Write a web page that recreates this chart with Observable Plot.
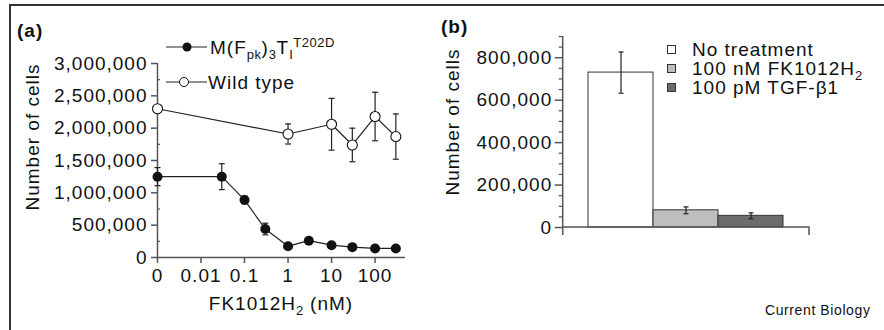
<!DOCTYPE html>
<html><head><meta charset="utf-8">
<script src="https://cdn.jsdelivr.net/npm/d3@7"></script>
<script src="https://cdn.jsdelivr.net/npm/@observablehq/plot@0.6"></script>
<style>
html,body{margin:0;padding:0;background:#fff;}
#fig{position:relative;width:884px;height:330px;overflow:hidden;background:#fff;font-family:'Liberation Sans',Arial,Helvetica,sans-serif;color:#111;}
.panel{position:absolute;top:0;}
.t{position:absolute;font-size:19px;letter-spacing:1px;line-height:1;white-space:nowrap;}
.sb{font-size:13px;position:relative;top:5px;letter-spacing:0.5px;}
.sp{font-size:13px;position:relative;top:-7px;letter-spacing:0.5px;}
.frameL{position:absolute;left:9px;top:4px;width:1.5px;height:330px;background:#333;}
.frameT{position:absolute;left:9px;top:4px;width:880px;height:1.5px;background:#333;}
.sq{position:absolute;width:7px;height:7px;border:1px solid #333;}
</style>
</head><body>
<div id="fig">
  <div class="frameL"></div><div class="frameT"></div>
  <div class="panel" id="pa" style="left:0px"></div>
  <div class="panel" id="pb" style="left:440px"></div>

  <div class="t" style="left:17px;top:21px;font-weight:bold;">(a)</div>
  <div class="t" style="left:441px;top:17px;font-weight:bold;">(b)</div>

  <svg style="position:absolute;left:160px;top:35px" width="52" height="60">
    <line x1="6" y1="12" x2="47" y2="12" stroke="#222" stroke-width="1.2"/>
    <circle cx="27" cy="12" r="4.5" fill="#111"/>
    <line x1="6" y1="47" x2="47" y2="47" stroke="#222" stroke-width="1.2"/>
    <circle cx="24" cy="47" r="4.5" fill="#fff" stroke="#111" stroke-width="1"/>
  </svg>
  <div class="t" style="left:210px;top:38px;">M(F<span class="sb">pk</span>)<span class="sb">3</span>T<span class="sb">I</span><span class="sp">T202D</span></div>
  <div class="t" style="left:208px;top:73px;">Wild type</div>

  <div class="t" style="left:32px;top:137px;transform:translate(-50%,-50%) rotate(-90deg);">Number of cells</div>
  <div class="t" style="left:281px;top:294px;transform:translateX(-50%);">FK1012H<span class="sb">2</span> (nM)</div>

  <div class="t" style="left:452px;top:122px;transform:translate(-50%,-50%) rotate(-90deg);">Number of cells</div>

  <div class="sq" style="left:667px;top:45px;background:#ffffff"></div>
  <div class="sq" style="left:667px;top:64px;background:#bebec1"></div>
  <div class="sq" style="left:667px;top:83px;background:#6c6c6f"></div>
  <div class="t" style="left:692px;top:40px;">No treatment</div>
  <div class="t" style="left:692px;top:59px;">100 nM FK1012H<span class="sb">2</span></div>
  <div class="t" style="left:692px;top:78px;">100 pM TGF-β1</div>

  <div class="t" style="left:765px;top:303px;font-size:14px;letter-spacing:0.6px;">Current Biology</div>
</div>
<script>
// ---------- Panel (a) data ----------
const concMutant = [0, 0.03, 0.1, 0.3, 1, 3, 10, 30, 100, 300];
const mutantCells = [1250000, 1250000, 890000, 440000, 175000, 260000, 190000, 160000, 140000, 140000];
const mutantErr = [140000, 200000, 60000, 90000, 20000, 25000, 20000, 15000, 15000, 15000];
const concWild = [0, 1, 10, 30, 100, 300];
const wildCells = [2300000, 1910000, 2060000, 1740000, 2180000, 1870000];
const wildErr = [30000, 155000, 400000, 260000, 375000, 350000];
const xTickValuesA = [0, 0.01, 0.1, 1, 10, 100];
const xTickLabelsA = ["0", "0.01", "0.1", "1", "10", "100"];
const yTicksA = [0, 500000, 1000000, 1500000, 2000000, 2500000, 3000000];
const yMinorA = [250000, 750000, 1250000, 1750000, 2250000, 2750000];
const ZERO_POS = 0.001; // where the "0" concentration sits on the log axis

// ---------- Panel (b) data ----------
const treatments = ["No treatment", "100 nM FK1012H2", "100 pM TGF-β1"];
const cellCounts = [730000, 81000, 55000];
const cellErr = [97000, 16000, 14000];
const barColors = ["#ffffff", "#bebec1", "#6c6c6f"];
const yTicksB = [0, 200000, 400000, 600000, 800000];
const yMinorB = [50000, 100000, 150000, 250000, 300000, 350000, 450000, 500000, 550000, 650000, 700000, 750000, 850000, 900000];

const AX = "#555";
const LINE = "#222";
const fmt = d3.format(",");
const FONT = "font-family:'Liberation Sans',Arial,Helvetica,sans-serif;font-size:19px;letter-spacing:1px;background:transparent;overflow:visible;color:#111;";
const hline = {draw(ctx, size) { const r = Math.sqrt(size / Math.PI); ctx.moveTo(-r, 0); ctx.lineTo(r, 0); }};
const pos = c => c === 0 ? ZERO_POS : c;

const mutant = concMutant.map((c, i) => ({x: pos(c), v: mutantCells[i], e: mutantErr[i]}));
const wild = concWild.map((c, i) => ({x: pos(c), v: wildCells[i], e: wildErr[i]}));
const xPosA = xTickValuesA.map(pos);

function errorMarks(data, capR) {
  return [
    Plot.ruleX(data, {x: "x", y1: d => d.v - d.e, y2: d => d.v + d.e, stroke: LINE, strokeWidth: 1.2}),
    Plot.dot(data, {x: "x", y: d => d.v + d.e, symbol: hline, r: capR, stroke: LINE, strokeWidth: 1.2, fill: "none"}),
    Plot.dot(data, {x: "x", y: d => d.v - d.e, symbol: hline, r: capR, stroke: LINE, strokeWidth: 1.2, fill: "none"})
  ];
}

const chartA = Plot.plot({
  width: 440, height: 330,
  marginLeft: 157, marginRight: 35, marginTop: 63, marginBottom: 73,
  style: FONT,
  x: {type: "log", domain: [0.001, 500], label: null},
  y: {domain: [0, 3000000], label: null},
  marks: [
    Plot.ruleY([0], {stroke: AX, strokeWidth: 1.5}),
    Plot.ruleX([ZERO_POS], {stroke: AX, strokeWidth: 1.5}),
    Plot.axisY(yTicksA, {tickSize: 6, tickPadding: 4, tickFormat: fmt, stroke: AX, strokeWidth: 1.5, label: null}),
    Plot.axisY(yMinorA, {tickSize: 3, dx: 3, tickFormat: () => "", stroke: AX, strokeWidth: 1.2, label: null}),
    Plot.axisX(xPosA, {tickSize: 6, tickPadding: 5, tickFormat: d => xTickLabelsA[xPosA.indexOf(d)], stroke: AX, strokeWidth: 1.5, label: null}),
    ...errorMarks(mutant, 3),
    ...errorMarks(wild, 3),
    Plot.line(wild, {x: "x", y: "v", stroke: LINE, strokeWidth: 1.2}),
    Plot.line(mutant, {x: "x", y: "v", stroke: LINE, strokeWidth: 1.2}),
    Plot.dot(wild, {x: "x", y: "v", r: 5, fill: "#fff", stroke: "#111", strokeWidth: 1.1}),
    Plot.dot(mutant, {x: "x", y: "v", r: 5, fill: "#111"})
  ]
});
document.getElementById("pa").append(chartA);

const bars = treatments.map((t, i) => ({cat: t, v: cellCounts[i], e: cellErr[i]}));

const chartB = Plot.plot({
  width: 444, height: 330,
  marginLeft: 122.7, marginRight: 75, marginTop: 36, marginBottom: 103,
  style: FONT,
  x: {domain: treatments, paddingInner: 0, paddingOuter: 0.37, axis: null, label: null},
  y: {domain: [0, 900000], label: null},
  color: {domain: treatments, range: barColors},
  marks: [
    Plot.barY(bars, {x: "cat", y: "v", fill: "cat", stroke: "#333", strokeWidth: 1}),
    Plot.ruleX(bars, {x: "cat", y1: d => d.v - d.e, y2: d => d.v + d.e, stroke: LINE, strokeWidth: 1.2}),
    Plot.dot(bars, {x: "cat", y: d => d.v + d.e, symbol: hline, r: 2.5, stroke: LINE, strokeWidth: 1.2, fill: "none"}),
    Plot.dot(bars, {x: "cat", y: d => d.v - d.e, symbol: hline, r: 2.5, stroke: LINE, strokeWidth: 1.2, fill: "none"}),
    Plot.axisY(yTicksB, {tickSize: 8, tickPadding: 3, tickFormat: fmt, stroke: AX, strokeWidth: 1.5, label: null}),
    Plot.axisY(yMinorB, {tickSize: 4, tickFormat: () => "", stroke: AX, strokeWidth: 1.2, label: null}),
    (index, scales, values, dims) => {
      const l = dims.marginLeft, r = dims.width - dims.marginRight;
      const t = dims.marginTop, b = dims.height - dims.marginBottom;
      const g = d3.create("svg:g");
      g.append("path").attr("d", `M${l},${t}V${b + 8}M${l},${b}H${r}V${b + 8}`)
        .attr("fill", "none").attr("stroke", AX).attr("stroke-width", 1.5);
      return g.node();
    }
  ]
});
document.getElementById("pb").append(chartB);
</script>
</body></html>
